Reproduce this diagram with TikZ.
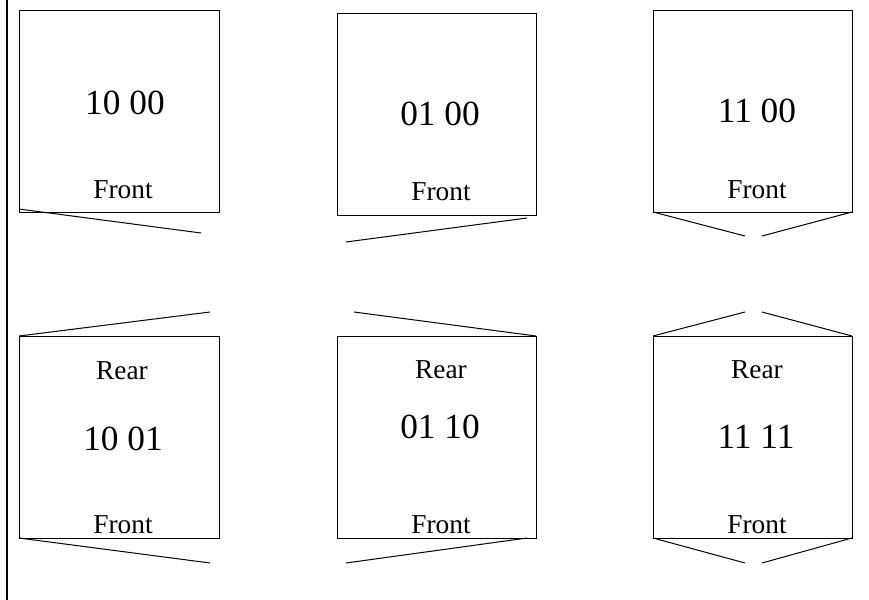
\documentclass[tikz,border=0pt]{standalone}
\usepackage{fontspec}
\setmainfont{Liberation Serif}

\tikzset{
  card/.style = {line width = 0.75pt},
  flap/.style = {line width = 0.75pt},
  code/.style = {inner sep = 0pt, font = \fontsize{26.5}{31}\selectfont},
  side/.style = {inner sep = 0pt, font = \fontsize{20.5}{24}\selectfont}
}

\begin{document}
\begin{tikzpicture}[x = 0.75pt, y = -0.75pt]
\useasboundingbox (0, 0) rectangle (869, 600);
\draw[line width = 1.5pt] (7, 0)--(7, 600);
\draw[card] (19, 10) rectangle (219, 212);
\node[code] (codeA) at (125, 103) {10 00};
\node[side] (frontA) at (123, 190) {Front};
\draw[flap] (19, 209)--(201, 233);
\draw[card] (337, 13) rectangle (536, 215);
\node[code] (codeB) at (440, 114) {01 00};
\node[side] (frontB) at (441, 192) {Front};
\draw[flap] (527, 218)--(346, 242);
\draw[card] (653, 10) rectangle (852, 212);
\node[code] (codeC) at (757, 111) {11 00};
\node[side] (frontC) at (757, 190) {Front};
\draw[flap] (653, 212)--(745, 236);
\draw[flap] (852, 212)--(762, 236);
\draw[card] (19, 336) rectangle (219, 538);
\node[side] (rearD) at (122, 371) {Rear};
\node[code] (codeD) at (123, 439) {10 01};
\node[side] (frontD) at (123, 525) {Front};
\draw[flap] (19, 336)--(210, 312);
\draw[flap] (19, 538)--(210, 563);
\draw[card] (337, 336) rectangle (536, 538);
\node[side] (rearE) at (441, 370) {Rear};
\node[code] (codeE) at (440, 427) {01 10};
\node[side] (frontE) at (441, 525) {Front};
\draw[flap] (354, 312)--(536, 336);
\draw[flap] (527, 538)--(346, 563);
\draw[card] (653, 336) rectangle (852, 538);
\node[side] (rearF) at (757, 370) {Rear};
\node[code] (codeF) at (756, 437) {11 11};
\node[side] (frontF) at (757, 525) {Front};
\draw[flap] (653, 336)--(745, 312);
\draw[flap] (762, 312)--(852, 336);
\draw[flap] (653, 538)--(745, 563);
\draw[flap] (762, 563)--(852, 538);
\end{tikzpicture}
\end{document}
